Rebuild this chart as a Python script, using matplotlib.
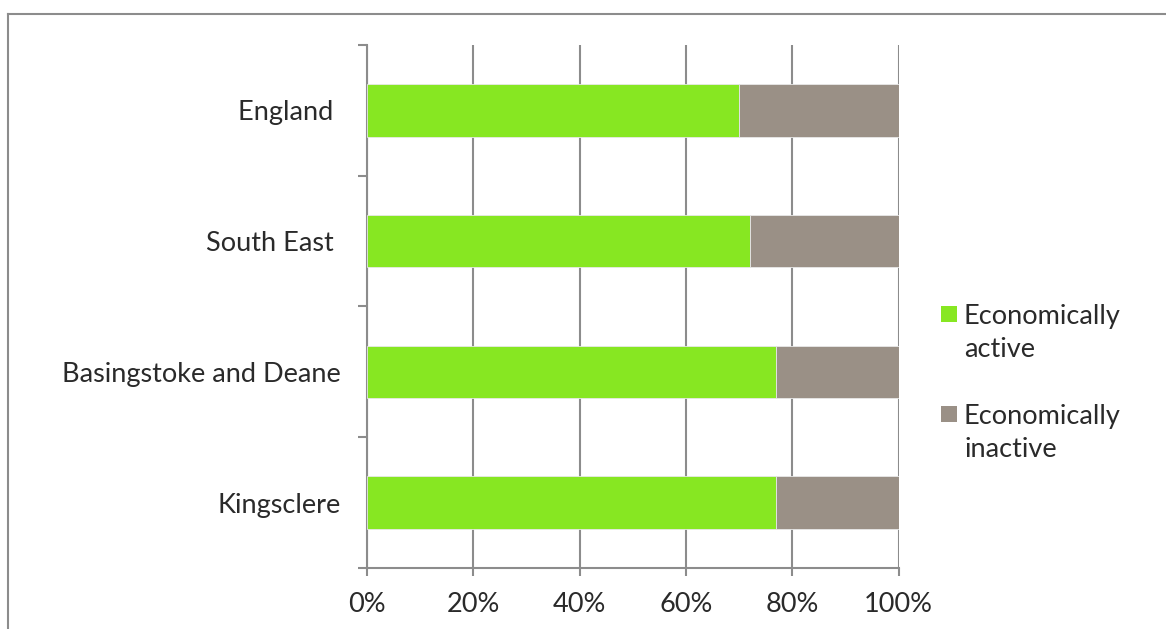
import numpy as np
import matplotlib.pyplot as plt
from matplotlib.lines import Line2D
from matplotlib.patches import Rectangle
from matplotlib.ticker import FixedLocator, PercentFormatter

plt.rcParams['font.family'] = ['Lato', 'DejaVu Sans']

# share of residents aged 16-74 (%)
areas = ['England ', 'South East ', 'Basingstoke and Deane', 'Kingsclere']
active = [70.0, 72.0, 76.9, 76.9]
inactive = [30.0, 28.0, 23.1, 23.1]
series_names = ['Economically\nactive', 'Economically\ninactive']
colors = ['#87e722', '#9a9086']

grey = '#8c8c8c'
text_col = '#2a2a2a'
fs = 19.5

fig = plt.figure(figsize=(11.66, 6.29), dpi=100)
ax = fig.add_axes([0.3148, 0.097, 0.456, 0.8315])

y = np.arange(len(areas))
ax.barh(y, active, height=0.4, color=colors[0], edgecolor='#e8e8e8',
        linewidth=0.6, zorder=3)
ax.barh(y, inactive, left=active, height=0.4, color=colors[1],
        edgecolor='#e8e8e8', linewidth=0.6, zorder=3)

ax.set_xlim(0, 100)
ax.set_ylim(len(areas) - 0.5, -0.5)
ax.set_xticks(np.arange(0, 101, 20))
ax.xaxis.set_major_formatter(PercentFormatter(decimals=0))
ax.set_yticks(y)
ax.set_yticklabels(areas)
ax.yaxis.set_minor_locator(FixedLocator(np.arange(-0.5, len(areas), 1)))

ax.grid(axis='x', color=grey, linewidth=1.5, zorder=0)
for side in ['top', 'right']:
    ax.spines[side].set_visible(False)
for side in ['left', 'bottom']:
    ax.spines[side].set_color(grey)
    ax.spines[side].set_linewidth(1.5)

ax.tick_params(axis='x', length=6, width=1.5, color=grey, pad=11,
               labelsize=fs, labelcolor=text_col)
ax.tick_params(axis='y', which='major', length=0, pad=19,
               labelsize=fs, labelcolor=text_col)
ax.tick_params(axis='y', which='minor', length=6.5, width=1.5, color=grey)

# legend: colour square beside the first line of each two-line label
for i, (name, col) in enumerate(zip(series_names, colors)):
    top = 1 - (306 + 100 * i) / 629
    fig.add_artist(Rectangle((941 / 1166, top - 16 / 629), 16 / 1166, 16 / 629,
                             transform=fig.transFigure, facecolor=col,
                             edgecolor='none'))
    fig.text(964 / 1166, top + 2 / 629, name, ha='left', va='top',
             fontsize=fs, color=text_col, linespacing=1.38)

# outer chart frame
fig.add_artist(Line2D([8 / 1166, 1.0], [1 - 14 / 629] * 2,
                      transform=fig.transFigure, color=grey, linewidth=1.5))
fig.add_artist(Line2D([8 / 1166] * 2, [0.0, 1 - 14 / 629],
                      transform=fig.transFigure, color=grey, linewidth=1.5))

fig.savefig('out.png', dpi=100, facecolor='white')
